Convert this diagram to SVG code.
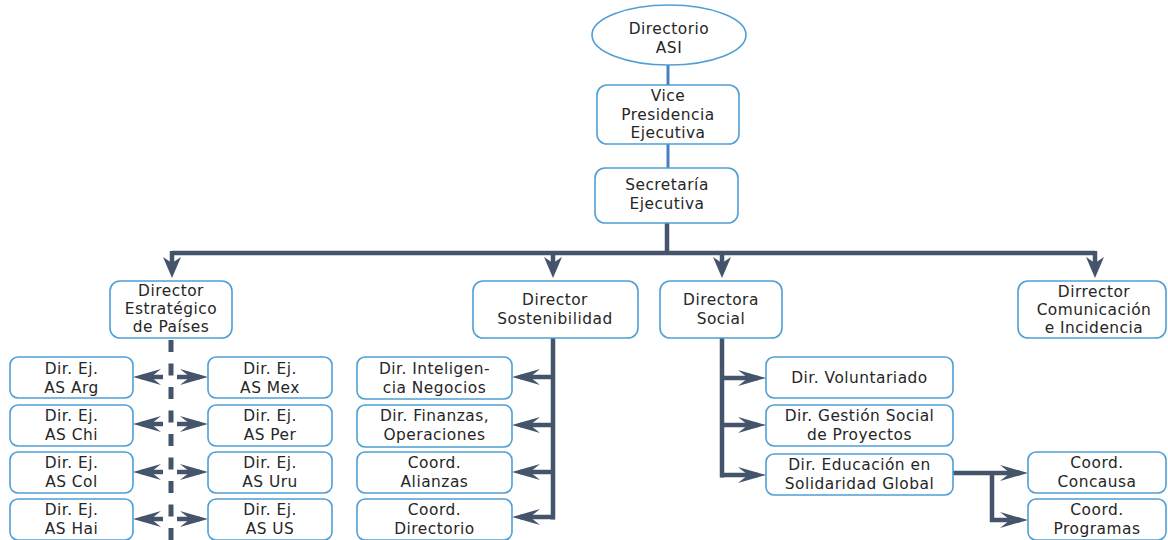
<svg xmlns="http://www.w3.org/2000/svg" width="1168" height="540" viewBox="0 0 1168 540">
<style>
.box{fill:#fff;stroke:#4f9fd6;stroke-width:1.6}
.t{font-family:"DejaVu Sans","Open Sans",sans-serif;font-size:15.4px;letter-spacing:0.5px;fill:#262626;text-anchor:middle}
.blue{stroke:#4a7fc0;stroke-width:3;fill:none}
.dk{stroke:#44546a;stroke-width:4.5;fill:none}
</style>
<defs>
<marker id="ad" viewBox="0 0 18 21" refX="9" refY="14" markerWidth="18" markerHeight="21" orient="0" markerUnits="userSpaceOnUse">
<path d="M0,0 L9,21 L18,0 L9,6 z" fill="#44546a"/>
</marker>
<marker id="as" viewBox="0 0 28 16" refX="20" refY="8" markerWidth="28" markerHeight="16" orient="auto" markerUnits="userSpaceOnUse">
<path d="M0,0 L28,8 L0,16 L10,8 z" fill="#44546a"/>
</marker>
</defs>

<g id="connectors">
<line class="blue" x1="668" y1="64" x2="668" y2="85"/>
<line class="blue" x1="668" y1="144" x2="668" y2="168"/>
<path class="dk" d="M667,223 V253" stroke-width="5"/>
<path class="dk" d="M172,253 H1095"/>
<line class="dk" x1="172" y1="251" x2="172" y2="271" marker-end="url(#ad)"/>
<line class="dk" x1="553" y1="251" x2="553" y2="271" marker-end="url(#ad)"/>
<line class="dk" x1="722" y1="251" x2="722" y2="271" marker-end="url(#ad)"/>
<line class="dk" x1="1095" y1="251" x2="1095" y2="271" marker-end="url(#ad)"/>

<line x1="171" y1="340" x2="171" y2="540" stroke="#44546a" stroke-width="5" stroke-dasharray="12 11.5"/>
<line class="dk" x1="163" y1="377" x2="141" y2="377" marker-end="url(#as)"/>
<line class="dk" x1="163" y1="424" x2="141" y2="424" marker-end="url(#as)"/>
<line class="dk" x1="163" y1="472" x2="141" y2="472" marker-end="url(#as)"/>
<line class="dk" x1="163" y1="519" x2="141" y2="519" marker-end="url(#as)"/>
<line class="dk" x1="177" y1="377" x2="200" y2="377" marker-end="url(#as)"/>
<line class="dk" x1="177" y1="424" x2="200" y2="424" marker-end="url(#as)"/>
<line class="dk" x1="177" y1="472" x2="200" y2="472" marker-end="url(#as)"/>
<line class="dk" x1="177" y1="519" x2="200" y2="519" marker-end="url(#as)"/>

<path class="dk" d="M553,338 V519.5" stroke-width="5"/>
<line class="dk" x1="555" y1="377" x2="520" y2="377" marker-end="url(#as)"/>
<line class="dk" x1="555" y1="425" x2="520" y2="425" marker-end="url(#as)"/>
<line class="dk" x1="555" y1="472" x2="520" y2="472" marker-end="url(#as)"/>
<line class="dk" x1="555" y1="517" x2="520" y2="517" marker-end="url(#as)"/>

<path class="dk" d="M722,338 V477.5" stroke-width="5"/>
<line class="dk" x1="720" y1="378" x2="758" y2="378" marker-end="url(#as)"/>
<line class="dk" x1="720" y1="425" x2="758" y2="425" marker-end="url(#as)"/>
<line class="dk" x1="720" y1="475" x2="758" y2="475" marker-end="url(#as)"/>

<line class="dk" x1="953" y1="473" x2="1020" y2="473" marker-end="url(#as)"/>
<path class="dk" d="M992,471 V520 H1020" marker-end="url(#as)"/>
</g>

<g id="n-directorio">
<ellipse cx="669" cy="35" rx="77" ry="30" class="box"/>
<text class="t" x="669" y="34">Directorio<tspan x="669" dy="19">ASI</tspan></text>
</g>
<g id="n-vice">
<rect x="597" y="85" width="142" height="59" rx="10" class="box"/>
<text class="t" x="668" y="101">Vice<tspan x="668" dy="18.5">Presidencia</tspan><tspan x="668" dy="18.5">Ejecutiva</tspan></text>
</g>
<g id="n-secretaria">
<rect x="595" y="168" width="143" height="55" rx="10" class="box"/>
<text class="t" x="667" y="190">Secretaría<tspan x="667" dy="19">Ejecutiva</tspan></text>
</g>

<g id="n-estrategico">
<rect x="110" y="281" width="122" height="57" rx="10" class="box"/>
<text class="t" x="171" y="296">Director<tspan x="171" dy="18">Estratégico</tspan><tspan x="171" dy="18">de Países</tspan></text>
</g>
<g id="n-sostenibilidad">
<rect x="473" y="281" width="165" height="57" rx="10" class="box"/>
<text class="t" x="555" y="305">Director<tspan x="555" dy="18.5">Sostenibilidad</tspan></text>
</g>
<g id="n-social">
<rect x="660" y="281" width="122" height="57" rx="10" class="box"/>
<text class="t" x="721" y="305">Directora<tspan x="721" dy="18.5">Social</tspan></text>
</g>
<g id="n-comunicacion">
<rect x="1018" y="281" width="148" height="57" rx="10" class="box"/>
<text class="t" x="1094" y="297">Dirrector<tspan x="1094" dy="18">Comunicación</tspan><tspan x="1094" dy="18">e Incidencia</tspan></text>
</g>

<g id="n-arg"><rect x="10" y="357" width="123" height="41" rx="8" class="box"/><text class="t" x="71.5" y="374">Dir. Ej.<tspan x="71.5" dy="19">AS Arg</tspan></text></g>
<g id="n-chi"><rect x="10" y="405" width="123" height="41" rx="8" class="box"/><text class="t" x="71.5" y="421">Dir. Ej.<tspan x="71.5" dy="19">AS Chi</tspan></text></g>
<g id="n-col"><rect x="10" y="452" width="123" height="41" rx="8" class="box"/><text class="t" x="71.5" y="468">Dir. Ej.<tspan x="71.5" dy="19">AS Col</tspan></text></g>
<g id="n-hai"><rect x="10" y="499" width="123" height="41" rx="8" class="box"/><text class="t" x="71.5" y="515">Dir. Ej.<tspan x="71.5" dy="19">AS Hai</tspan></text></g>
<g id="n-mex"><rect x="208" y="357" width="124" height="41" rx="8" class="box"/><text class="t" x="270" y="374">Dir. Ej.<tspan x="270" dy="19">AS Mex</tspan></text></g>
<g id="n-per"><rect x="208" y="405" width="124" height="41" rx="8" class="box"/><text class="t" x="270" y="421">Dir. Ej.<tspan x="270" dy="19">AS Per</tspan></text></g>
<g id="n-uru"><rect x="208" y="452" width="124" height="41" rx="8" class="box"/><text class="t" x="270" y="468">Dir. Ej.<tspan x="270" dy="19">AS Uru</tspan></text></g>
<g id="n-us"><rect x="208" y="499" width="124" height="41" rx="8" class="box"/><text class="t" x="270" y="515">Dir. Ej.<tspan x="270" dy="19">AS US</tspan></text></g>

<g id="n-inteligencia"><rect x="357" y="357" width="155" height="42" rx="8" class="box"/><text class="t" x="434.5" y="374">Dir. Inteligen-<tspan x="434.5" dy="19">cia Negocios</tspan></text></g>
<g id="n-finanzas"><rect x="357" y="405" width="155" height="42" rx="8" class="box"/><text class="t" x="434.5" y="421">Dir. Finanzas,<tspan x="434.5" dy="19">Operaciones</tspan></text></g>
<g id="n-alianzas"><rect x="357" y="452" width="155" height="41" rx="8" class="box"/><text class="t" x="434.5" y="468">Coord.<tspan x="434.5" dy="19">Alianzas</tspan></text></g>
<g id="n-cdirectorio"><rect x="357" y="499" width="155" height="41" rx="8" class="box"/><text class="t" x="434.5" y="515">Coord.<tspan x="434.5" dy="19">Directorio</tspan></text></g>

<g id="n-voluntariado"><rect x="766" y="357" width="187" height="41" rx="8" class="box"/><text class="t" x="859.5" y="383">Dir. Voluntariado</text></g>
<g id="n-gestion"><rect x="766" y="405" width="187" height="41" rx="8" class="box"/><text class="t" x="859.5" y="421">Dir. Gestión Social<tspan x="859.5" dy="19">de Proyectos</tspan></text></g>
<g id="n-educacion"><rect x="766" y="454" width="187" height="41" rx="8" class="box"/><text class="t" x="859.5" y="470">Dir. Educación en<tspan x="859.5" dy="19">Solidaridad Global</tspan></text></g>

<g id="n-concausa"><rect x="1028" y="452" width="138" height="41" rx="8" class="box"/><text class="t" x="1097" y="468">Coord.<tspan x="1097" dy="19">Concausa</tspan></text></g>
<g id="n-programas"><rect x="1028" y="499" width="138" height="41" rx="8" class="box"/><text class="t" x="1097" y="515">Coord.<tspan x="1097" dy="19">Programas</tspan></text></g>
</svg>
